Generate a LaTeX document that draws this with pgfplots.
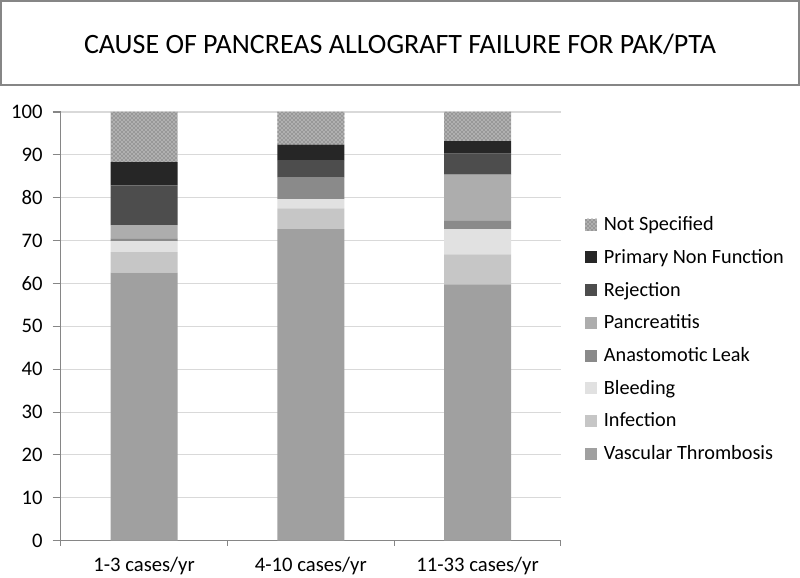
\documentclass[border=0pt]{standalone}
\usepackage{fontspec}
\setmainfont{Carlito}
\usepackage{pgfplots}
\pgfplotsset{compat=1.18}
\usetikzlibrary{patterns}
\definecolor{cVT}{HTML}{A0A0A0}
\definecolor{cInf}{HTML}{C6C6C6}
\definecolor{cBl}{HTML}{E1E1E1}
\definecolor{cAL}{HTML}{8A8A8A}
\definecolor{cPa}{HTML}{ADADAD}
\definecolor{cRe}{HTML}{4D4D4D}
\definecolor{cPN}{HTML}{262626}
\definecolor{cNS}{HTML}{B0B0B0}
\definecolor{gridc}{HTML}{D9D9D9}
\definecolor{axc}{HTML}{868686}
\begin{document}
\begin{tikzpicture}
\path[use as bounding box] (0,0) rectangle (600pt,433.5pt);
\draw[axc, line width=0.8pt] (0.75pt,369.75pt) rectangle (599.25pt,432.75pt);
\node[font=\fontsize{21}{25}\selectfont] at (300pt,400.5pt) {CAUSE OF PANCREAS ALLOGRAFT FAILURE FOR PAK/PTA};
\begin{axis}[
  at={(45.5pt,28pt)}, anchor=south west,
  scale only axis, width=375.2pt, height=321.5pt,
  ybar stacked, bar width=50.2pt,
  xmin=-0.5, xmax=2.5, ymin=0, ymax=100,
  xtick={0,1,2}, xticklabels={1-3 cases/yr,4-10 cases/yr,11-33 cases/yr},
  minor xtick={-0.5,0.5,1.5,2.5},
  ytick={0,10,...,100},
  axis lines*=left,
  axis line style={axc, line width=0.8pt},
  tick align=outside,
  major tick length=6pt, minor tick length=4pt,
  x tick style={draw=none},
  minor x tick style={draw=axc, line width=0.8pt},
  y tick style={draw=axc, line width=0.8pt},
  ymajorgrids, grid style={gridc, line width=0.8pt},
  tick label style={font=\fontsize{15.5}{18}\selectfont},
  /pgf/number format/assume math mode=true,
  yticklabel style={xshift=-4pt},
  xticklabel style={yshift=-3pt},
  reverse legend,
  legend style={at={(1.048,0.47)}, anchor=west, draw=none, fill=none,
    font=\fontsize{15.2}{18}\selectfont, row sep=8.5pt, inner sep=0pt},
  legend cell align=left,
  legend image code/.code={\fill[#1] (0pt,-4.5pt) rectangle (9pt,4.5pt); \path (12pt,0pt);},
]
\addplot[fill=cVT, draw=none] coordinates {(0,62.5) (1,72.7) (2,59.8)};
\addlegendentry{Vascular Thrombosis}
\addplot[fill=cInf, draw=none] coordinates {(0,4.8) (1,4.8) (2,7.0)};
\addlegendentry{Infection}
\addplot[fill=cBl, draw=none] coordinates {(0,2.6) (1,2.2) (2,5.9)};
\addlegendentry{Bleeding}
\addplot[fill=cAL, draw=none] coordinates {(0,0.6) (1,5.0) (2,1.9)};
\addlegendentry{Anastomotic Leak}
\addplot[fill=cPa, draw=none] coordinates {(0,3.1) (1,0) (2,10.8)};
\addlegendentry{Pancreatitis}
\addplot[fill=cRe, draw=none] coordinates {(0,9.3) (1,4.1) (2,4.9)};
\addlegendentry{Rejection}
\addplot[fill=cPN, draw=none] coordinates {(0,5.4) (1,3.6) (2,2.9)};
\addlegendentry{Primary Non Function}
\addplot[fill=cNS, draw=none, postaction={pattern=crosshatch dots, pattern color=black!70}] coordinates {(0,11.7) (1,7.6) (2,6.8)};
\addlegendentry{Not Specified}
\end{axis}
\end{tikzpicture}
\end{document}
